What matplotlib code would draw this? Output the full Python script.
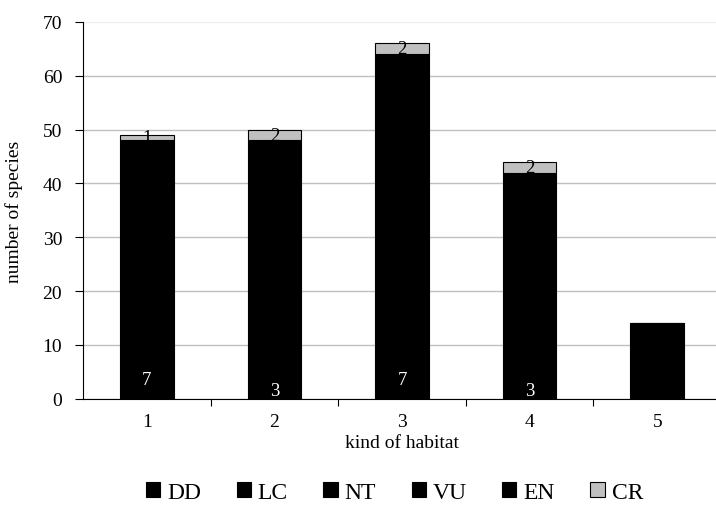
import numpy as np
import matplotlib
matplotlib.use("Agg")
import matplotlib.pyplot as plt
from matplotlib.patches import Patch

plt.rcParams["font.family"] = ["Liberation Serif", "DejaVu Serif"]

# categories and stacked series (IUCN status per kind of habitat)
habitats = ["1", "2", "3", "4", "5"]
status = ["DD", "LC", "NT", "VU", "EN", "CR"]
dd = [7, 3, 7, 3, 0]
lc = [16, 20, 19, 20, 8]
nt = [7, 8, 6, 5, 2]
vu = [10, 10, 20, 8, 3]
en = [8, 7, 12, 6, 1]
cr = [1, 2, 2, 2, 0]
series = [dd, lc, nt, vu, en, cr]
colors = ["black", "black", "black", "black", "black", "#c0c0c0"]
label_colors = ["white", "black", "black", "black", "black", "black"]

fig = plt.figure(figsize=(7.16, 5.10), dpi=100)
ax = fig.add_axes([0.116, 0.216, 0.891, 0.739])

x = np.arange(1, len(habitats) + 1)
bottom = np.zeros(len(habitats))
for name, vals, col, lcol in zip(status, series, colors, label_colors):
    vals = np.array(vals, dtype=float)
    ax.bar(x, vals, width=0.42, bottom=bottom, color=col,
           edgecolor="black", linewidth=0.8, zorder=3)
    # only DD (white) and CR (on grey) labels are readable in the original
    for xi, b, v in zip(x, bottom, vals):
        if v > 0 and name in ("DD", "CR"):
            ax.text(xi, b + v / 2, f"{int(v)}", ha="center", va="center",
                    color=lcol, fontsize=13.5, zorder=4)
    bottom += vals

ax.set_xlim(0.5, 5.5)
ax.set_ylim(0, 70)
ax.set_yticks(range(0, 71, 10))
ax.set_xticks(x)
ax.set_xticklabels(habitats)
ax.set_xticks(np.arange(1.5, 5.5, 1), minor=True)
ax.tick_params(axis="x", which="major", length=0, labelsize=14, pad=10)
ax.tick_params(axis="x", which="minor", length=5, width=0.8, direction="out")
ax.tick_params(axis="y", length=6, width=0.8, labelsize=14, pad=9)

ax.yaxis.grid(True, color="#c0c0c0", linewidth=1.0, zorder=0)
ax.set_axisbelow(True)
ax.get_ygridlines()[-1].set_alpha(0.25)
for side in ("top", "right"):
    ax.spines[side].set_visible(False)
ax.spines["left"].set_linewidth(0.8)
ax.spines["bottom"].set_linewidth(0.8)

ax.set_ylabel("number of species", fontsize=14, labelpad=14)
ax.set_xlabel("kind of habitat", fontsize=14, labelpad=3)

handles = [Patch(facecolor=c, edgecolor="black", linewidth=0.8) for c in colors]
fig.legend(handles, status, loc="center", bbox_to_anchor=(0.551, 0.033),
           ncol=6, frameon=False, fontsize=17, handlelength=0.6,
           handleheight=0.6, handletextpad=0.3, columnspacing=1.5)

fig.savefig("out.png", dpi=100)
